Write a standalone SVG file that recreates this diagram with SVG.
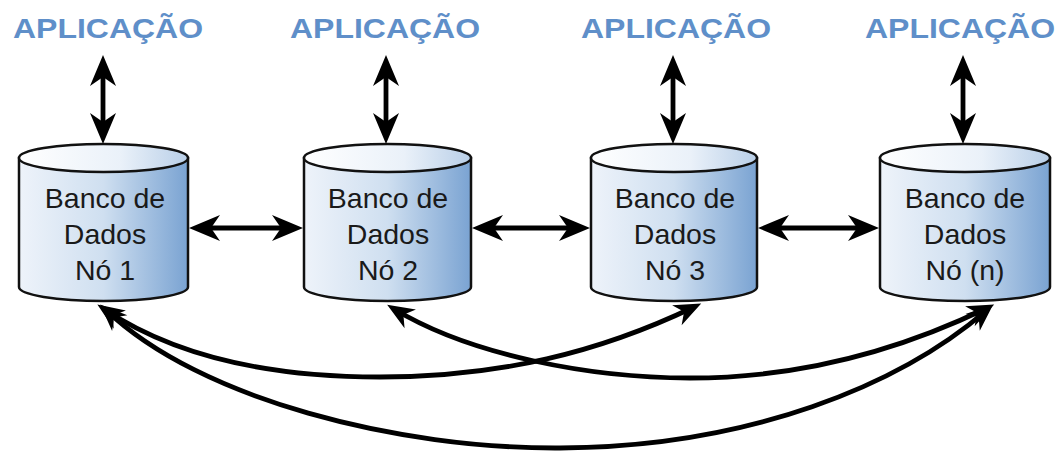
<svg xmlns="http://www.w3.org/2000/svg" width="1063" height="458" viewBox="0 0 1063 458">
<style>
.app{font-family:"Liberation Sans",Arial,sans-serif;font-weight:bold;font-size:28px;fill:#5f8fc9;text-anchor:middle}
.lbl{font-family:"Liberation Sans",Arial,sans-serif;font-size:28.5px;fill:#1a1a1a;text-anchor:middle}
.body{fill:url(#gb);stroke:#111;stroke-width:2.5}
.top{fill:url(#gt);stroke:#111;stroke-width:2.5}
.ln{fill:none;stroke:#000;stroke-width:4.8}
</style>
<defs>
<linearGradient id="gb" x1="0" y1="0" x2="1" y2="0">
<stop offset="0" stop-color="#eef3fa"/>
<stop offset="0.5" stop-color="#cfdff0"/>
<stop offset="1" stop-color="#7aa3d2"/>
</linearGradient>
<linearGradient id="gt" x1="0" y1="0" x2="1" y2="0">
<stop offset="0" stop-color="#ffffff"/>
<stop offset="0.6" stop-color="#eaf1f9"/>
<stop offset="1" stop-color="#b9cfe8"/>
</linearGradient>
<marker id="ah" viewBox="-32 -15 34 30" refX="-8" refY="0" markerWidth="34" markerHeight="30" markerUnits="userSpaceOnUse" orient="auto-start-reverse">
<path d="M0,0 L-31,-13 L-22,0 L-31,13 Z" fill="#000"/>
</marker>
<marker id="ac" viewBox="-28 -13 30 26" refX="-8" refY="0" markerWidth="30" markerHeight="26" markerUnits="userSpaceOnUse" orient="auto-start-reverse">
<path d="M0,0 L-27,-11 L-19,0 L-27,11 Z" fill="#000"/>
</marker>
</defs>

<g id="app1"><text class="app" x="108" y="38" textLength="190" lengthAdjust="spacingAndGlyphs">APLICAÇÃO</text></g>
<g id="app2"><text class="app" x="385" y="38" textLength="190" lengthAdjust="spacingAndGlyphs">APLICAÇÃO</text></g>
<g id="app3"><text class="app" x="676" y="38" textLength="190" lengthAdjust="spacingAndGlyphs">APLICAÇÃO</text></g>
<g id="app4"><text class="app" x="960" y="38" textLength="190" lengthAdjust="spacingAndGlyphs">APLICAÇÃO</text></g>

<g id="node1">
<path class="body" d="M19,158 L19,287 A84.5,14 0 0 0 188,287 L188,158 Z"/>
<ellipse class="top" cx="103.5" cy="158" rx="84.5" ry="14"/>
<text class="lbl" x="105" y="208">Banco de</text>
<text class="lbl" x="105" y="244">Dados</text>
<text class="lbl" x="105" y="280">Nó 1</text>
</g>
<g id="node2">
<path class="body" d="M304,158 L304,287 A83.5,14 0 0 0 471,287 L471,158 Z"/>
<ellipse class="top" cx="387.5" cy="158" rx="83.5" ry="14"/>
<text class="lbl" x="388" y="208">Banco de</text>
<text class="lbl" x="388" y="244">Dados</text>
<text class="lbl" x="388" y="280">Nó 2</text>
</g>
<g id="node3">
<path class="body" d="M591,158 L591,287 A83,14 0 0 0 757,287 L757,158 Z"/>
<ellipse class="top" cx="674" cy="158" rx="83" ry="14"/>
<text class="lbl" x="675" y="208">Banco de</text>
<text class="lbl" x="675" y="244">Dados</text>
<text class="lbl" x="675" y="280">Nó 3</text>
</g>
<g id="node4">
<path class="body" d="M880,158 L880,287 A85,14 0 0 0 1050,287 L1050,158 Z"/>
<ellipse class="top" cx="965" cy="158" rx="85" ry="14"/>
<text class="lbl" x="965" y="208">Banco de</text>
<text class="lbl" x="965" y="244">Dados</text>
<text class="lbl" x="965" y="280">Nó (n)</text>
</g>

<g id="connectors">
<path class="ln" d="M103,63 L103,136" marker-start="url(#ah)" marker-end="url(#ah)"/>
<path class="ln" d="M386,63 L386,136" marker-start="url(#ah)" marker-end="url(#ah)"/>
<path class="ln" d="M673,63 L673,136" marker-start="url(#ah)" marker-end="url(#ah)"/>
<path class="ln" d="M963,63 L963,136" marker-start="url(#ah)" marker-end="url(#ah)"/>
<path class="ln" d="M197,228 L295,228" marker-start="url(#ah)" marker-end="url(#ah)"/>
<path class="ln" d="M480,228 L582,228" marker-start="url(#ah)" marker-end="url(#ah)"/>
<path class="ln" d="M766,228 L871,228" marker-start="url(#ah)" marker-end="url(#ah)"/>
<path class="ln" d="M104,309 C180,360 280,377 380,377 C500,377 600,352 694,307" marker-start="url(#ac)" marker-end="url(#ac)"/>
<path class="ln" d="M394,309 C470,355 590,378 690,378 C800,378 900,350 987,308" marker-start="url(#ac)" marker-end="url(#ac)"/>
<path class="ln" d="M106,310 C200,400 400,449 560,448 C750,447 900,385 987,310" marker-start="url(#ac)" marker-end="url(#ac)"/>
</g>
</svg>
